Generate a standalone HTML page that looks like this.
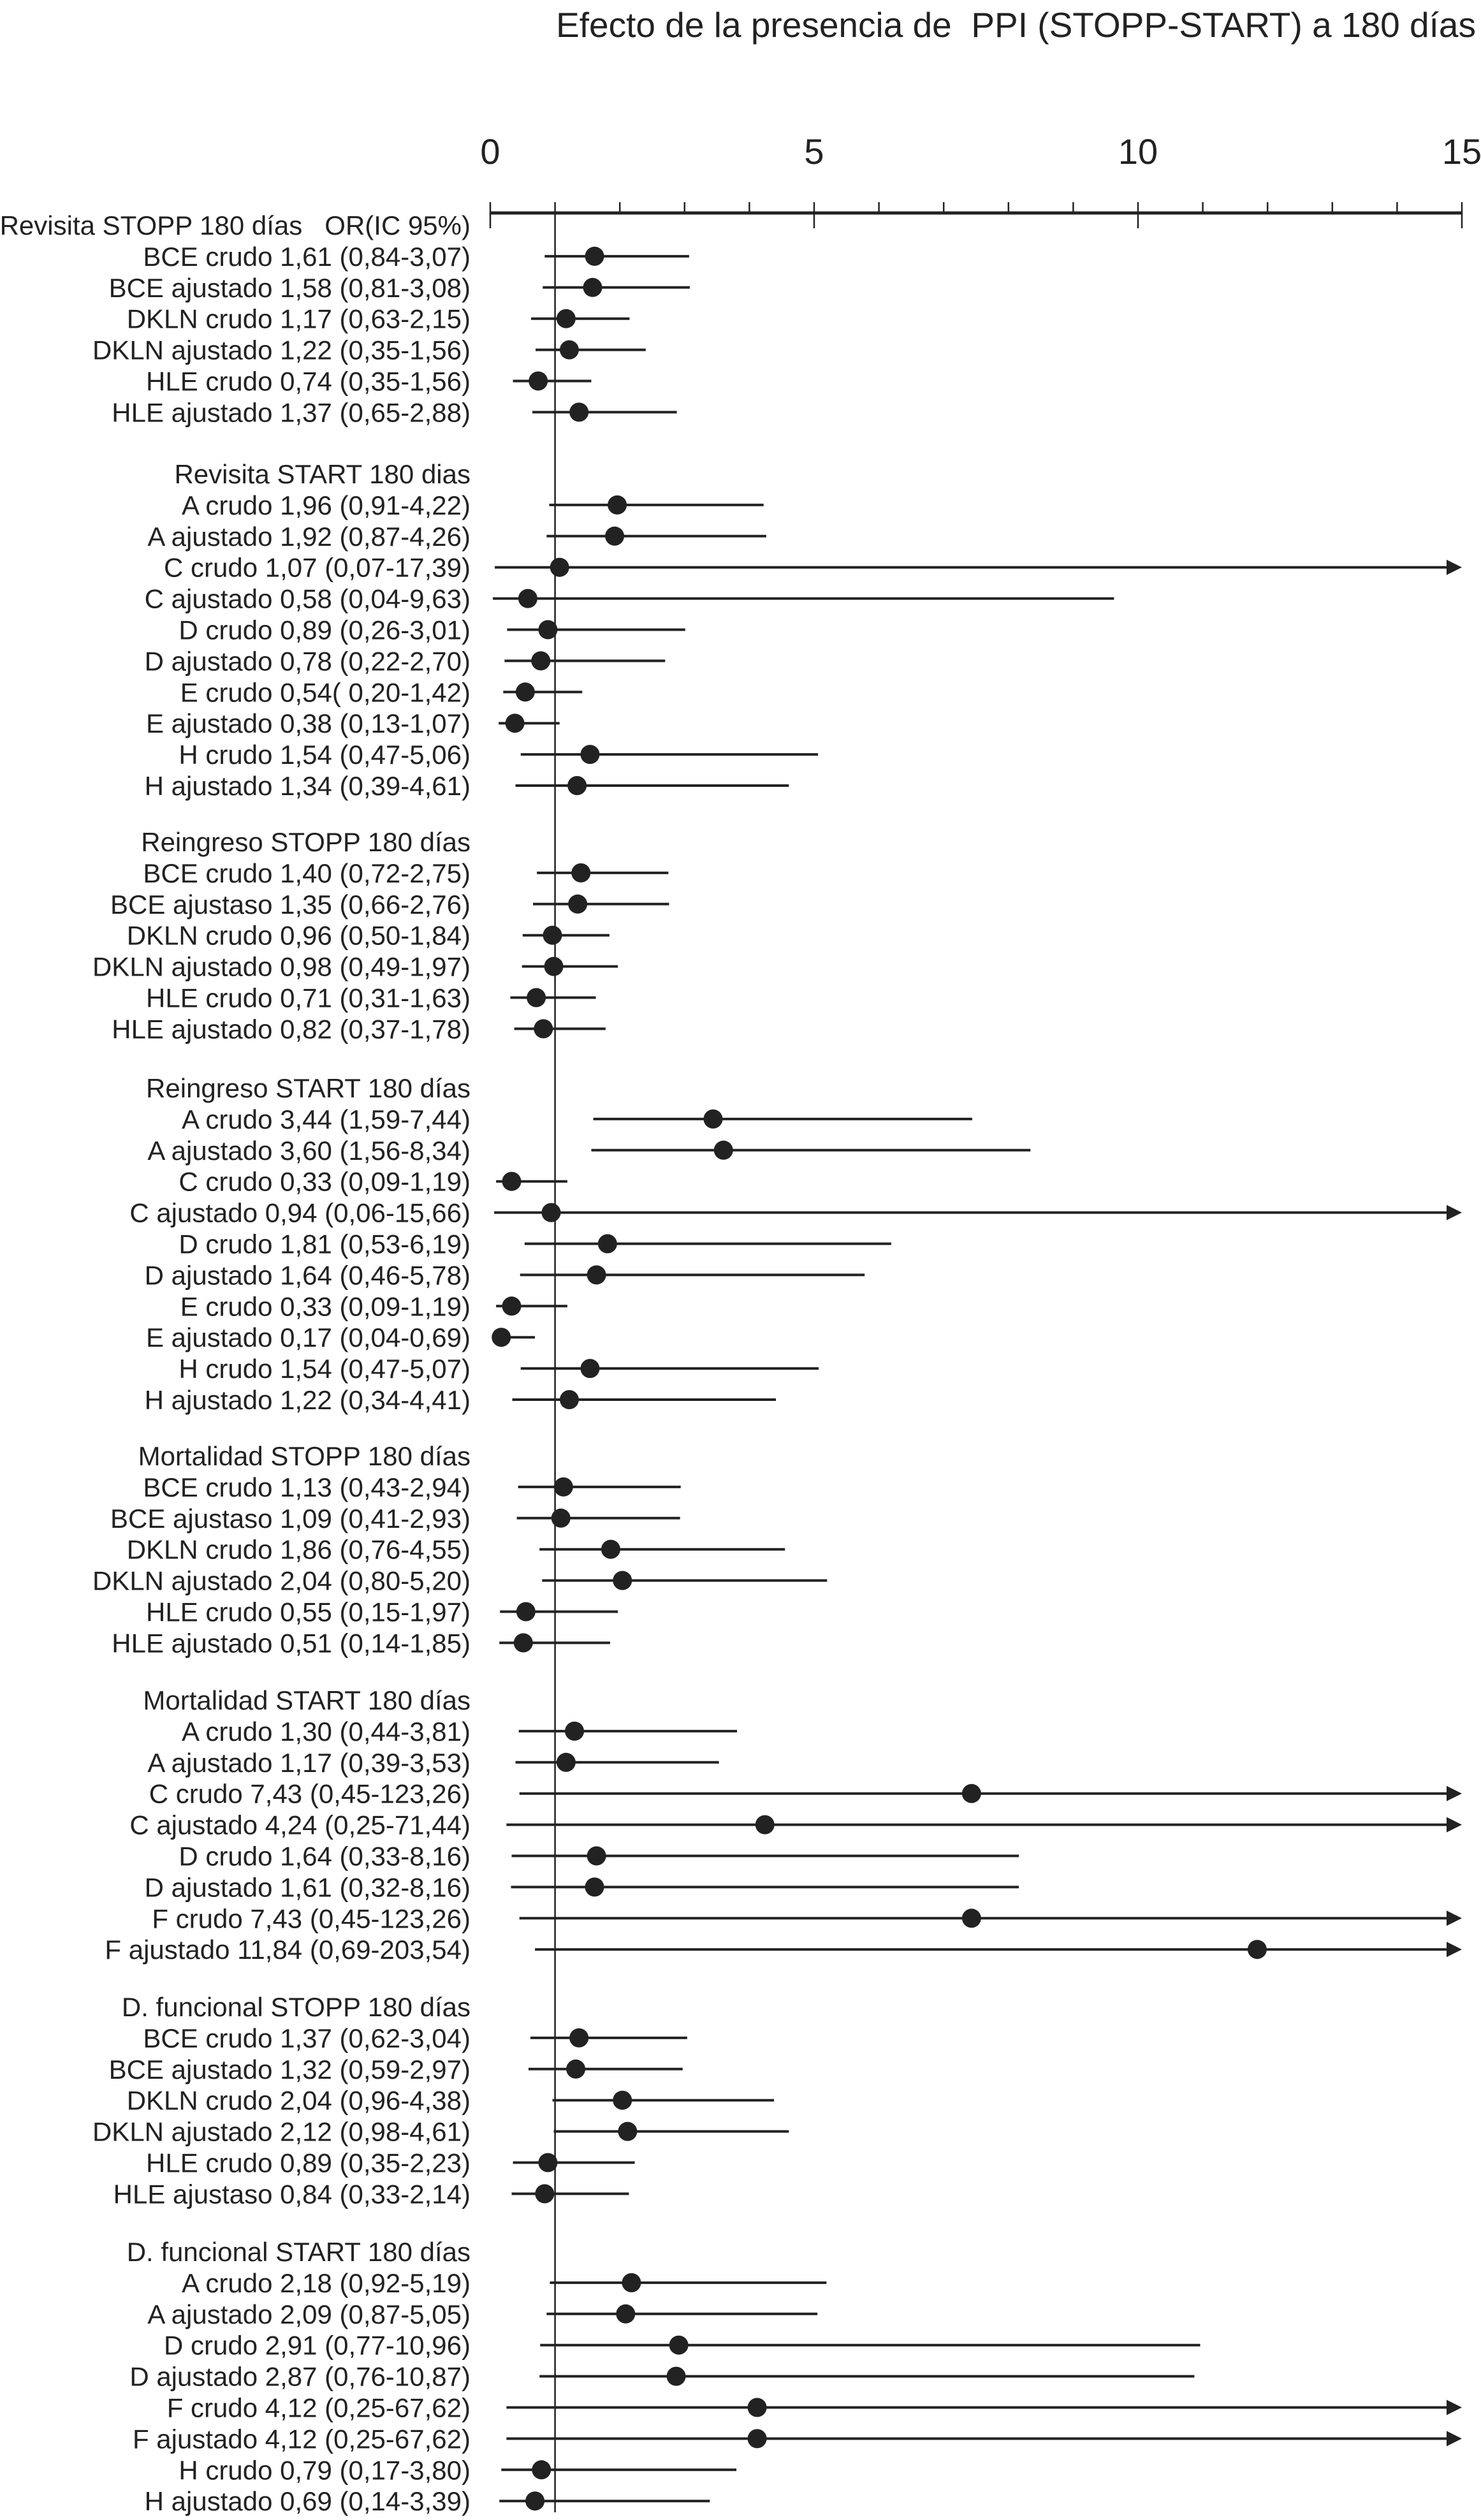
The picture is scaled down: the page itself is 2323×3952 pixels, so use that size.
<!DOCTYPE html>
<html><head><meta charset="utf-8"><style>
html,body{margin:0;padding:0;background:#fff;}
svg{display:block;font-family:"Liberation Sans",Arial,sans-serif;}
.pre{white-space:pre;}
</style></head><body>
<svg id="chart" width="2323" height="3952" viewBox="0 0 2323 3952" xmlns="http://www.w3.org/2000/svg">
<text class="pre" x="2315" y="58" font-size="55" text-anchor="end" fill="#222">Efecto de la presencia de  PPI (STOPP-START) a 180 días</text>
<g id="axis"></g>
<g id="rows"></g>
</svg>
<script>
const groupTitles = ["Revisita STOPP 180 días   OR(IC 95%)","Revisita  START 180 dias","Reingreso STOPP 180 días","Reingreso START 180 días","Mortalidad STOPP 180 días","Mortalidad START 180 días","D. funcional STOPP 180 días","D. funcional START 180 días"];
const groupSizes = [6,10,6,10,6,8,6,8];
const rowLabels = [
"BCE crudo  1,61 (0,84-3,07)","BCE ajustado  1,58 (0,81-3,08)","DKLN crudo  1,17 (0,63-2,15)","DKLN ajustado  1,22 (0,35-1,56)","HLE crudo  0,74 (0,35-1,56)","HLE ajustado  1,37 (0,65-2,88)",
"A crudo  1,96 (0,91-4,22)","A ajustado  1,92 (0,87-4,26)","C crudo  1,07 (0,07-17,39)","C ajustado  0,58 (0,04-9,63)","D crudo  0,89 (0,26-3,01)","D ajustado   0,78 (0,22-2,70)","E crudo  0,54( 0,20-1,42)","E ajustado  0,38 (0,13-1,07)","H crudo  1,54 (0,47-5,06)","H ajustado  1,34 (0,39-4,61)",
"BCE crudo  1,40 (0,72-2,75)","BCE ajustaso  1,35 (0,66-2,76)","DKLN crudo 0,96 (0,50-1,84)","DKLN ajustado 0,98 (0,49-1,97)","HLE crudo  0,71 (0,31-1,63)","HLE ajustado 0,82 (0,37-1,78)",
"A crudo  3,44 (1,59-7,44)","A ajustado   3,60 (1,56-8,34)","C crudo 0,33 (0,09-1,19)","C ajustado  0,94 (0,06-15,66)","D crudo  1,81 (0,53-6,19)","D ajustado   1,64 (0,46-5,78)","E crudo  0,33 (0,09-1,19)","E ajustado  0,17 (0,04-0,69)","H crudo  1,54 (0,47-5,07)","H ajustado  1,22 (0,34-4,41)",
"BCE crudo  1,13 (0,43-2,94)","BCE ajustaso  1,09 (0,41-2,93)","DKLN crudo  1,86 (0,76-4,55)","DKLN ajustado  2,04 (0,80-5,20)","HLE crudo  0,55 (0,15-1,97)","HLE ajustado  0,51 (0,14-1,85)",
"A crudo  1,30 (0,44-3,81)","A ajustado    1,17 (0,39-3,53)","C crudo  7,43 (0,45-123,26)","C ajustado   4,24 (0,25-71,44)","D crudo  1,64 (0,33-8,16)","D ajustado  1,61 (0,32-8,16)","F crudo  7,43 (0,45-123,26)","F ajustado   11,84 (0,69-203,54)",
"BCE crudo  1,37 (0,62-3,04)","BCE ajustado  1,32 (0,59-2,97)","DKLN crudo  2,04 (0,96-4,38)","DKLN ajustado  2,12 (0,98-4,61)","HLE crudo  0,89 (0,35-2,23)","HLE ajustaso  0,84 (0,33-2,14)",
"A crudo  2,18 (0,92-5,19)","A ajustado   2,09 (0,87-5,05)","D crudo  2,91 (0,77-10,96)","D ajustado   2,87 (0,76-10,87)","F crudo  4,12 (0,25-67,62)","F ajustado   4,12 (0,25-67,62)","H crudo  0,79 (0,17-3,80)","H ajustado  0,69 (0,14-3,39)"];
const orValues = [1.61,1.58,1.17,1.22,0.74,1.37, 1.96,1.92,1.07,0.58,0.89,0.78,0.54,0.38,1.54,1.34, 1.40,1.35,0.96,0.98,0.71,0.82, 3.44,3.60,0.33,0.94,1.81,1.64,0.33,0.17,1.54,1.22, 1.13,1.09,1.86,2.04,0.55,0.51, 1.30,1.17,7.43,4.24,1.64,1.61,7.43,11.84, 1.37,1.32,2.04,2.12,0.89,0.84, 2.18,2.09,2.91,2.87,4.12,4.12,0.79,0.69];
const lowValues = [0.84,0.81,0.63,0.70,0.35,0.65, 0.91,0.87,0.07,0.04,0.26,0.22,0.20,0.13,0.47,0.39, 0.72,0.66,0.50,0.49,0.31,0.37, 1.59,1.56,0.09,0.06,0.53,0.46,0.09,0.04,0.47,0.34, 0.43,0.41,0.76,0.80,0.15,0.14, 0.44,0.39,0.45,0.25,0.33,0.32,0.45,0.69, 0.62,0.59,0.96,0.98,0.35,0.33, 0.92,0.87,0.77,0.76,0.25,0.25,0.17,0.14];
const highValues = [3.07,3.08,2.15,2.40,1.56,2.88, 4.22,4.26,17.39,9.63,3.01,2.70,1.42,1.07,5.06,4.61, 2.75,2.76,1.84,1.97,1.63,1.78, 7.44,8.34,1.19,15.66,6.19,5.78,1.19,0.69,5.07,4.41, 2.94,2.93,4.55,5.20,1.97,1.85, 3.81,3.53,123.26,71.44,8.16,8.16,123.26,203.54, 3.04,2.97,4.38,4.61,2.23,2.14, 5.19,5.05,10.96,10.87,67.62,67.62,3.80,3.39];
const tickLabels = [0,5,10,15];
const axisMax = 15;

const NS = "http://www.w3.org/2000/svg";
const X0 = 769, X1 = 2293, AXY = 334;
const groupHeaderY = [353,743,1320,1706,2283,2666,3147,3531];
const ROW = 48.9, LABX = 738;
function xs(v){ return X0 + (X1 - X0) * v / axisMax; }
function mk(tag, attrs, parent){ const e = document.createElementNS(NS, tag); for (const k in attrs) e.setAttribute(k, attrs[k]); parent.appendChild(e); return e; }
const axis = document.getElementById('axis');
const rows = document.getElementById('rows');

const axLine = mk('line', {x1:X0, x2:X1, y1:AXY, y2:AXY, stroke:'#222', 'stroke-width':5}, axis);


for (let v = 0; v <= axisMax; v++) {
  const major = v % 5 === 0;
  const t = mk('line', {x1:xs(v), x2:xs(v), y1:317, y2: major ? 358 : AXY, stroke:'#222', 'stroke-width':2.5}, axis);
  
  
}
tickLabels.forEach(v => {
  const t = mk('text', {x:xs(v), y:257, 'font-size':56, 'text-anchor':'middle', fill:'#222'}, axis);
  t.textContent = v;
  
  
});
const ref = mk('line', {x1:xs(1), x2:xs(1), y1:AXY, y2:3940, stroke:'#222', 'stroke-width':2.5}, axis);



let idx = 0;
groupTitles.forEach((title, g) => {
  const hy = groupHeaderY[g];
  const h = mk('text', {x:LABX, y:hy + 15, 'font-size':42, 'text-anchor':'end', fill:'#222'}, rows);
  if (g === 0) h.setAttribute('class', 'pre');
  h.textContent = title;
  
  
  for (let i = 0; i < groupSizes[g]; i++, idx++) {
    const y = hy + (i + 1) * ROW;
    const lab = mk('text', {x:LABX, y:y + 15, 'font-size':42, 'text-anchor':'end', fill:'#222'}, rows);
    lab.textContent = rowLabels[idx];
    
    
    const hi = highValues[idx];
    const clipped = hi > axisMax;
    const xe = clipped ? xs(axisMax) - 20 : xs(hi);
    const ci = mk('line', {x1:xs(lowValues[idx]), x2:xe, y1:y, y2:y, stroke:'#222', 'stroke-width':4}, rows);
    
    
    if (clipped) {
      const xa = xs(axisMax);
      const ar = mk('polygon', {points:`${xa - 24},${y - 12} ${xa},${y} ${xa - 24},${y + 12}`, fill:'#222'}, rows);
      
      
    }
    const pt = mk('ellipse', {cx:xs(orValues[idx]), cy:y, rx:15, ry:15, fill:'#222'}, rows);
    
    
  }
});
</script>
</body></html>
